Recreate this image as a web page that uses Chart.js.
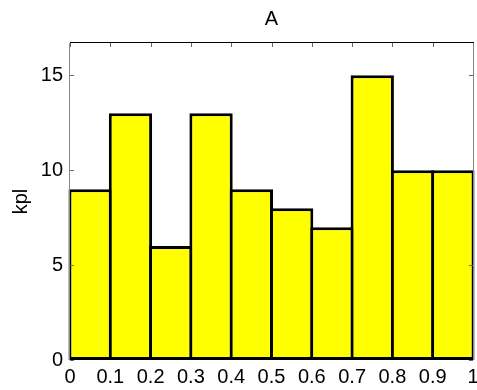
<!DOCTYPE html>
<html>
<head>
<meta charset="utf-8">
<script src="https://cdn.jsdelivr.net/npm/chart.js@4/dist/chart.umd.min.js"></script>
<style>
  html, body { margin: 0; padding: 0; background: #fff; }
  #wrap { width: 477px; height: 390px; }
</style>
</head>
<body>
<div id="wrap"><canvas id="chart"></canvas></div>
<script>
// ---- data ----
const binCenters = [0.05, 0.15, 0.25, 0.35, 0.45, 0.55, 0.65, 0.75, 0.85, 0.95];
const counts = [9, 13, 6, 13, 9, 8, 7, 15, 10, 10];
const xTickLabels = ["0", "0.1", "0.2", "0.3", "0.4", "0.5", "0.6", "0.7", "0.8", "0.9", "1"];
const yTickLabels = ["0", "5", "10", "15"];
const titleText = "A";
const yAxisLabel = "kpl";

Chart.defaults.font.family = "'Liberation Sans', Arial, sans-serif";
Chart.defaults.font.size = 20;
Chart.defaults.color = "#000";

// inner tick marks + axes box, matlab style
const boxPlugin = {
  id: "box",
  afterDatasetsDraw(chart) {
    const { ctx, chartArea: a, scales } = chart;
    ctx.save();
    ctx.lineWidth = 1;
    ctx.strokeStyle = "#666";
    scales.x.ticks.forEach(t => {
      const px = Math.round(scales.x.getPixelForValue(t.value)) + 0.5;
      ctx.beginPath();
      ctx.moveTo(px, a.top);
      ctx.lineTo(px, a.top + 4);
      ctx.stroke();
    });
    scales.y.ticks.forEach(t => {
      const py = Math.round(scales.y.getPixelForValue(t.value)) + 0.5;
      ctx.beginPath();
      ctx.moveTo(a.right, py);
      ctx.lineTo(a.right - 4, py);
      ctx.moveTo(a.left, py);
      ctx.lineTo(a.left + 4, py);
      ctx.stroke();
    });
    // box
    ctx.strokeStyle = "#888";
    ctx.beginPath();
    ctx.moveTo(Math.round(a.left) - 0.5, a.top);
    ctx.lineTo(Math.round(a.left) - 0.5, a.bottom);
    ctx.moveTo(Math.round(a.right) + 0.5, a.top);
    ctx.lineTo(Math.round(a.right) + 0.5, a.bottom);
    ctx.stroke();
    ctx.strokeStyle = "#000";
    ctx.beginPath();
    ctx.moveTo(a.left, Math.round(a.top) - 0.5);
    ctx.lineTo(a.right + 1, Math.round(a.top) - 0.5);
    ctx.stroke();
    ctx.restore();
  }
};

new Chart(document.getElementById("chart"), {
  type: "bar",
  data: {
    datasets: [{
      data: binCenters.map((x, i) => ({ x: x, y: counts[i] })),
      backgroundColor: "#ffff00",
      borderColor: "#000000",
      borderWidth: 3,
      borderSkipped: false,
      barPercentage: 1.075,
      categoryPercentage: 1,
      clip: false
    }]
  },
  options: {
    responsive: true,
    maintainAspectRatio: false,
    animation: false,
    layout: { padding: { left: 0, right: 4, top: 0, bottom: 0 } },
    plugins: {
      legend: { display: false },
      tooltip: { enabled: false },
      title: {
        display: true,
        fullSize: false,
        text: titleText,
        font: { weight: "normal" },
        padding: { top: 7, bottom: 12 }
      }
    },
    scales: {
      x: {
        type: "linear",
        offset: false,
        min: 0,
        max: 1,
        grid: { display: false, drawTicks: false },
        border: { display: false },
        afterFit(scale) {
          scale.height = 30;
          scale.paddingLeft = 0;
          scale.paddingRight = 0;
        },
        ticks: {
          stepSize: 0.1,
          autoSkip: false,
          maxRotation: 0,
          padding: 5,
          callback: (v, i) => xTickLabels[i]
        }
      },
      y: {
        min: 0,
        max: 16.7,
        grid: { display: false, drawTicks: false },
        border: { display: false },
        afterFit(scale) { scale.width = 70; },
        title: {
          display: true,
          text: yAxisLabel,
          padding: { top: 9, bottom: 0 }
        },
        ticks: {
          stepSize: 5,
          includeBounds: false,
          padding: 7,
          callback: (v, i) => yTickLabels[i]
        }
      }
    }
  },
  plugins: [boxPlugin]
});
</script>
</body>
</html>
